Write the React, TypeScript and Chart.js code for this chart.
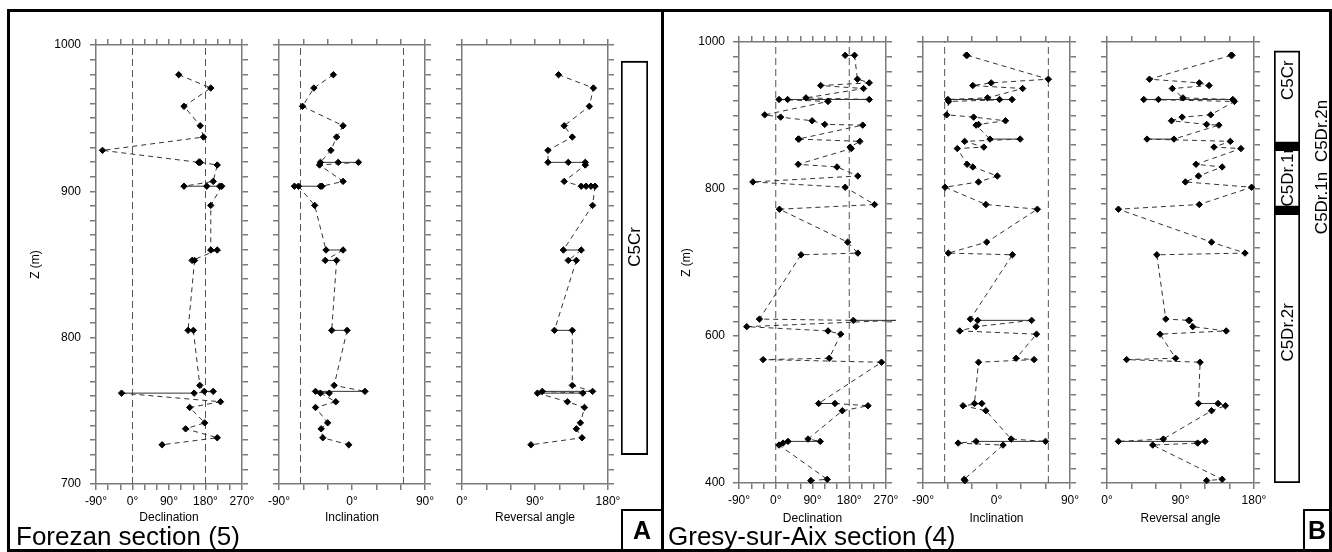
import React, { useEffect, useRef } from 'react';
import { Chart, registerables } from 'chart.js';

Chart.register(...registerables);

// ---------- Forezan section (5) ----------
const forezanDepth = [979.7, 970.6, 958.1, 944.8, 937.1, 928.0, 919.8, 919.8, 919.8, 918.0, 906.8, 903.5, 903.5, 903.5, 903.5, 890.4, 859.9, 859.9, 852.8, 852.8, 805.0, 805.0, 767.4, 763.3, 763.3, 762.1, 762.1, 756.2, 752.3, 741.8, 737.7, 731.6, 726.8];
const forezanDeclination = [114, 193, 127, 167, 175, -74, 163, 165, 167, 209, 199, 127, 183, 215, 220, 193, 193, 209, 147, 153, 137, 150, 166, 177, 199, 152, -27, 217, 141, 178, 131, 209, 73];
const forezanInclination = [-23, -47, -61, -11, -19, -26, -39, -17, 8, -40, -11, -37, -39, -71, -66, -46, -32, -11, -33, -19, -25, -6, -22, 16, -45, -28, -39, -20, -45, -30, -38, -36, -4];
const forezanReversal = [119, 162, 157, 126, 136, 106, 106, 131, 152, 152, 126, 147, 153, 159, 164, 161, 125, 147, 131, 141, 114, 136, 136, 161, 99, 149, 93, 130, 151, 146, 141, 148, 85];

const forezanChronName = ['C5Cr'];
const forezanChronBase = [720];
const forezanChronTop = [989];
const forezanChronPolarity = ['R'];
const forezanChronLabelDepth = [862];

// ---------- Gresy-sur-Aix section (4) ----------
const gresyDepth = [981.9, 981.9, 949.4, 944.4, 940.8, 936.7, 924.0, 921.8, 921.8, 921.8, 919.1, 900.9, 897.8, 892.8, 887.9, 886.9, 867.9, 867.9, 864.8, 857.0, 855.0, 833.6, 830.0, 817.7, 809.6, 802.4, 778.9, 772.5, 727.7, 712.8, 710.5, 623.0, 621.3, 621.3, 612.7, 606.9, 602.5, 569.7, 567.9, 564.3, 508.2, 508.2, 505.1, 498.3, 459.8, 456.6, 456.6, 454.3, 451.6, 405.0, 403.3];
const gresyDeclination = [170, 193, 200, 229, 110, 215, 74, 229, 29, 8, 128, -27, 12, 89, 120, 213, 55, 57, 206, 182, 185, 55, 150, 201, -56, 170, 242, 9, 176, 201, 62, -40, 190, 294, -71, 128, 159, 131, -31, 259, 105, 145, 226, 163, 79, 109, 30, 18, 8, 126, 86];
const gresyInclination = [-37, -36, 63.5, -6.5, -29, 32, -11, -59.5, 3.7, 19, -58.6, -61, -28, 11, -22, -25, -8, 29, -39, -15.5, -48, -36, -29, 1, -22, -63, -13, 50, -12, -59, 19.5, -32, -23, 43, -25, -45, 49, 24, 46, -22, -27, -18, -41, -13, 18, 60, -25, -47, 8, -39.5, -38.7];
const gresyReversal = [153, 152, 52, 113, 125, 80, 93, 154, 63, 45, 156, 127, 92, 79, 122, 137, 82, 49, 151, 131, 164, 109, 141, 112, 96, 177, 113, 14, 128, 169, 61, 72, 100, 101, 105, 146, 65, 84, 24, 114, 112, 136, 145, 128, 69, 14, 120, 111, 56, 141, 122];

const gresyChronName = ['C5Cr', 'C5Dr.2n', 'C5Dr.1r', 'C5Dr.1n', 'C5Dr.2r'];
const gresyChronBase = [862, 854, 775, 767, 400];
const gresyChronTop = [988, 862, 854, 775, 767];
const gresyChronPolarity = ['R', 'N', 'R', 'N', 'R'];
const gresyChronLabelDepth = [948, 879, 816, 781, 605];

// Axis ranges / reference directions
const declinationRange = [-90, 270];
const inclinationRange = [-90, 90];
const reversalRange = [0, 180];
const declinationRefs = [0, 180];
const inclinationRefs = [-63.5, 63.5];
const angleTickStep = 30;
const angleLabelStep = 90;

const FONT = '"Liberation Sans", Arial, Helvetica, sans-serif';
const AXIS = '#7a7a7a';

type PlotProps = {
  left: number; top: number; w: number; h: number;
  lw: number; rw: number; th: number; bh: number;
  xMin: number; xMax: number; refs: number[];
  yMin: number; yMax: number; yStep: number; yLabelEvery: number;
  yLabels: boolean; yPad: number;
  xTitle: string;
  depth: number[]; values: number[];
};

function Plot(p: PlotProps) {
  const ref = useRef<HTMLCanvasElement>(null);
  const W = p.lw + p.w + p.rw;
  const H = p.th + p.h + p.bh;
  useEffect(() => {
    const pts = p.depth.map((d, i) => ({ x: p.values[i], y: d }));
    const grid = { drawOnChartArea: false, drawTicks: true, tickLength: 6, color: AXIS, tickColor: AXIS, lineWidth: 1.5 };
    const border = { display: true, color: AXIS, width: 1.5 };
    const tickFont = { family: FONT, size: 12 };
    const xTicks = {
      stepSize: angleTickStep, autoSkip: false, maxRotation: 0, padding: 4, color: '#000', font: tickFont,
      callback: (v: any) => (Number(v) % angleLabelStep === 0 ? `${v}°` : ''),
    };
    const yTicks = {
      stepSize: p.yStep, autoSkip: false, padding: p.yPad, color: '#000', font: tickFont,
      callback: (v: any) => (p.yLabels && Number(v) % p.yLabelEvery === 0 ? String(v) : ''),
    };
    const datasets: any[] = [
      {
        data: pts,
        showLine: true,
        borderColor: '#333',
        borderWidth: 1,
        borderDash: [5, 4],
        segment: {
          borderDash: (ctx: any) => (ctx.p0.parsed.y === ctx.p1.parsed.y ? [] : [5, 4]),
        },
        pointStyle: 'rectRot',
        pointRadius: 3.2,
        pointBorderWidth: 1,
        pointBackgroundColor: '#000',
        pointBorderColor: '#000',
        clip: false,
      },
      ...p.refs.map((r) => ({
        data: [{ x: r, y: p.yMin }, { x: r, y: p.yMax }],
        showLine: true,
        borderColor: '#555',
        borderWidth: 1,
        borderDash: [7, 4],
        pointRadius: 0,
      })),
    ];
    const chart = new Chart(ref.current as HTMLCanvasElement, {
      type: 'scatter',
      data: { datasets },
      options: {
        animation: false,
        responsive: false,
        events: [],
        layout: { padding: 0 },
        plugins: { legend: { display: false }, tooltip: { enabled: false } },
        scales: {
          x: {
            type: 'linear', position: 'bottom', min: p.xMin, max: p.xMax,
            ticks: xTicks, grid, border,
            title: { display: true, text: p.xTitle, color: '#000', font: { family: FONT, size: 12 }, padding: 0 },
            afterFit: (s: any) => { s.height = p.bh; },
          },
          x2: {
            type: 'linear', position: 'top', min: p.xMin, max: p.xMax,
            ticks: { ...xTicks, callback: () => '' }, grid, border,
            afterFit: (s: any) => { s.height = p.th; },
          },
          y: {
            type: 'linear', position: 'left', min: p.yMin, max: p.yMax,
            ticks: yTicks, grid, border,
            title: { display: p.yLabels, text: 'Z (m)', color: '#000', font: { family: FONT, size: 12 }, padding: 0 },
            afterFit: (s: any) => { s.width = p.lw; },
          },
          y2: {
            type: 'linear', position: 'right', min: p.yMin, max: p.yMax,
            ticks: { ...yTicks, callback: () => '' }, grid, border,
            afterFit: (s: any) => { s.width = p.rw; },
          },
        } as any,
      },
    } as any);
    return () => chart.destroy();
  }, []);
  return (
    <canvas
      ref={ref}
      width={W}
      height={H}
      style={{ position: 'absolute', left: p.left - p.lw, top: p.top - p.th, width: W, height: H }}
    />
  );
}

type ColumnProps = {
  left: number; top: number; w: number; h: number; padRight: number;
  yMin: number; yMax: number;
  names: string[]; base: number[]; topZ: number[]; polarity: string[]; labelDepth: number[];
};

function PolarityColumn(p: ColumnProps) {
  const ref = useRef<HTMLCanvasElement>(null);
  const W = p.w + p.padRight;
  useEffect(() => {
    const datasets = p.names.map((n, i) => ({
      label: n,
      data: [[p.base[i], p.topZ[i]]],
      backgroundColor: p.polarity[i] === 'N' ? '#000' : '#fff',
      borderColor: '#000',
      borderWidth: 2,
      borderSkipped: false,
      grouped: false,
      barPercentage: 1,
      categoryPercentage: 1,
    }));
    const labels = {
      id: 'chronLabels',
      afterDatasetsDraw(chart: any) {
        const { ctx, chartArea, scales } = chart;
        ctx.save();
        ctx.fillStyle = '#000';
        ctx.font = `17px ${FONT}`;
        ctx.textAlign = 'center';
        ctx.textBaseline = 'middle';
        p.names.forEach((n, i) => {
          const y = scales.y.getPixelForValue(p.labelDepth[i]);
          const x = p.polarity[i] === 'N'
            ? chartArea.right + p.padRight * 0.66
            : (chartArea.left + chartArea.right) / 2;
          ctx.save();
          ctx.translate(x, y);
          ctx.rotate(-Math.PI / 2);
          ctx.fillText(n, 0, 1);
          ctx.restore();
        });
        ctx.restore();
      },
    };
    const chart = new Chart(ref.current as HTMLCanvasElement, {
      type: 'bar',
      data: { labels: [''], datasets },
      options: {
        animation: false,
        responsive: false,
        events: [],
        layout: { padding: { left: 0, top: 0, bottom: 0, right: p.padRight } },
        plugins: { legend: { display: false }, tooltip: { enabled: false } },
        scales: {
          x: { display: false },
          y: { display: false, min: p.yMin, max: p.yMax },
        },
      },
      plugins: [labels],
    } as any);
    return () => chart.destroy();
  }, []);
  return (
    <canvas
      ref={ref}
      width={W}
      height={p.h}
      style={{ position: 'absolute', left: p.left, top: p.top, width: W, height: p.h }}
    />
  );
}

const textBase: React.CSSProperties = { position: 'absolute', fontFamily: FONT, color: '#000', whiteSpace: 'nowrap', lineHeight: 1 };

export default function App() {
  const fz = { top: 45, h: 439, yMin: 700, yMax: 1000, yStep: 10, yLabelEvery: 100, th: 20, bh: 41, rw: 20, yPad: 9, depth: forezanDepth };
  const gr = { top: 42, h: 441, yMin: 400, yMax: 1000, yStep: 20, yLabelEvery: 200, th: 20, bh: 43, rw: 20, yPad: 8, depth: gresyDepth };
  return (
    <div style={{ position: 'absolute', left: 0, top: 0, width: 1332, height: 552, background: '#fff', overflow: 'hidden' }}>
      {/* panel frames */}
      <div style={{ position: 'absolute', left: 7, top: 9, width: 657, height: 543, border: '3px solid #000', boxSizing: 'border-box' }} />
      <div style={{ position: 'absolute', left: 661, top: 9, width: 671, height: 543, border: '3px solid #000', boxSizing: 'border-box' }} />

      {/* Forezan */}
      <Plot {...fz} left={96} w={146} lw={68} xMin={declinationRange[0]} xMax={declinationRange[1]} refs={declinationRefs} yLabels={true} xTitle="Declination" values={forezanDeclination} />
      <Plot {...fz} left={279} w={146} lw={20} xMin={inclinationRange[0]} xMax={inclinationRange[1]} refs={inclinationRefs} yLabels={false} xTitle="Inclination" values={forezanInclination} />
      <Plot {...fz} left={462} w={146} lw={20} xMin={reversalRange[0]} xMax={reversalRange[1]} refs={[]} yLabels={false} xTitle="Reversal angle" values={forezanReversal} />
      <PolarityColumn left={621} top={fz.top} w={27} h={fz.h} padRight={0} yMin={fz.yMin} yMax={fz.yMax}
        names={forezanChronName} base={forezanChronBase} topZ={forezanChronTop} polarity={forezanChronPolarity} labelDepth={forezanChronLabelDepth} />

      {/* Gresy-sur-Aix */}
      <Plot {...gr} left={739} w={147} lw={60} xMin={declinationRange[0]} xMax={declinationRange[1]} refs={declinationRefs} yLabels={true} xTitle="Declination" values={gresyDeclination} />
      <Plot {...gr} left={923} w={147} lw={20} xMin={inclinationRange[0]} xMax={inclinationRange[1]} refs={inclinationRefs} yLabels={false} xTitle="Inclination" values={gresyInclination} />
      <Plot {...gr} left={1107} w={147} lw={20} xMin={reversalRange[0]} xMax={reversalRange[1]} refs={[]} yLabels={false} xTitle="Reversal angle" values={gresyReversal} />
      <PolarityColumn left={1274} top={gr.top} w={26} h={gr.h} padRight={32} yMin={gr.yMin} yMax={gr.yMax}
        names={gresyChronName} base={gresyChronBase} topZ={gresyChronTop} polarity={gresyChronPolarity} labelDepth={gresyChronLabelDepth} />

      {/* titles */}
      <div style={{ ...textBase, left: 16, top: 523, fontSize: 26 }}>Forezan section (5)</div>
      <div style={{ ...textBase, left: 668, top: 523, fontSize: 26 }}>Gresy-sur-Aix section (4)</div>

      {/* panel letters */}
      <div style={{ position: 'absolute', left: 621, top: 509, width: 43, height: 43, borderLeft: '2px solid #000', borderTop: '2px solid #000', boxSizing: 'border-box' }}>
        <div style={{ ...textBase, left: 0, top: 0, width: 38, height: 38, display: 'flex', alignItems: 'center', justifyContent: 'center', fontSize: 25, fontWeight: 'bold' }}>A</div>
      </div>
      <div style={{ position: 'absolute', left: 1303, top: 509, width: 29, height: 43, borderLeft: '2px solid #000', borderTop: '2px solid #000', boxSizing: 'border-box' }}>
        <div style={{ ...textBase, left: 0, top: 0, width: 24, height: 38, display: 'flex', alignItems: 'center', justifyContent: 'center', fontSize: 25, fontWeight: 'bold' }}>B</div>
      </div>
    </div>
  );
}
